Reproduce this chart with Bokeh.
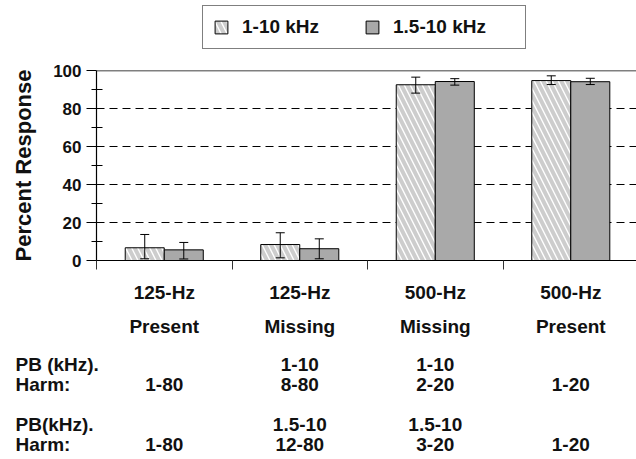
from bokeh.plotting import figure
from bokeh.layouts import column
from bokeh.models import (ColumnDataSource, Whisker, TeeHead, Legend, LegendItem,
                          Span, FixedTicker, Range1d)
from bokeh.core.properties import value
from bokeh.embed import file_html
from bokeh.resources import INLINE

# ---- data ----
cat_line1 = ["125-Hz", "125-Hz", "500-Hz", "500-Hz"]
cat_line2 = ["Present", "Missing", "Missing", "Present"]
pb_row1 = ["", "1-10", "1-10", ""]
harm_row1 = ["1-80", "8-80", "2-20", "1-20"]
pb_row2 = ["", "1.5-10", "1.5-10", ""]
harm_row2 = ["1-80", "12-80", "3-20", "1-20"]
row_titles = ["", "", "PB (kHz).", "Harm:", "PB(kHz).", "Harm:"]

series_names = ["1-10 kHz", "1.5-10 kHz"]
wide_mean = [6.7, 8.4, 92.5, 94.7]
wide_lo = [0.9, 1.4, 88.1, 92.6]
wide_hi = [13.7, 14.6, 96.5, 97.2]
narrow_mean = [5.6, 6.2, 94.2, 94.1]
narrow_lo = [0.8, 0.9, 92.3, 92.6]
narrow_hi = [9.5, 11.4, 95.7, 95.9]

y_ticks = [0, 20, 40, 60, 80, 100]
y_minor = [10, 30, 50, 70, 90]
grid_ticks = [20, 40, 60, 80]

FONT = "Liberation Sans"
TXT = "#111111"
W = 636
LEFT = 96
X_END = 3.985
PPU = (W - LEFT) / X_END
bar_w = 0.288
centers = [i + 0.5 for i in range(len(cat_line1))]

wide_style = dict(fill_color="white", line_color="black", line_width=1,
                  hatch_pattern="left_diagonal_line", hatch_color="#cdcdcd",
                  hatch_weight=4, hatch_scale=12)
narrow_style = dict(fill_color="#a9a9a9", line_color="black", line_width=1)

LH = 58
MH = 214
TH = 459 - LH - MH

src_w = ColumnDataSource(dict(x=[c - bar_w / 2 for c in centers], top=wide_mean, lo=wide_lo, hi=wide_hi))
src_n = ColumnDataSource(dict(x=[c + bar_w / 2 for c in centers], top=narrow_mean, lo=narrow_lo, hi=narrow_hi))

# ---------------- legend strip ----------------
# the strip's view lies far above the data, so only the legend shows
pl = figure(width=W, height=LH, output_backend="svg", toolbar_location=None,
            x_range=Range1d(0, X_END), y_range=Range1d(500, 501), frame_align=False,
            min_border_left=0, min_border_right=0, min_border_top=0, min_border_bottom=0,
            x_axis_location=None, y_axis_location=None)
pl.outline_line_color = None
pl.grid.visible = False
d_w = pl.vbar(x="x", top="top", width=bar_w, bottom=0, source=src_w, **wide_style)
d_n = pl.vbar(x="x", top="top", width=bar_w, bottom=0, source=src_n, **narrow_style)
legend = Legend(items=[LegendItem(label=series_names[0], renderers=[d_w]),
                       LegendItem(label=series_names[1], renderers=[d_n])],
                orientation="horizontal", location=(202, 9),
                border_line_color="black", border_line_width=1,
                background_fill_color="white", background_fill_alpha=1,
                padding=10, spacing=0, margin=0,
                glyph_width=16, glyph_height=16, label_standoff=13,
                label_width=122, label_height=22,
                label_text_font=FONT, label_text_font_style="bold",
                label_text_font_size="19px", label_text_color=TXT)
pl.add_layout(legend, "center")

# ---------------- main plot ----------------
p = figure(width=W, height=MH, output_backend="svg", toolbar_location=None,
           x_range=Range1d(0, X_END), y_range=Range1d(0, 100), frame_align=False,
           min_border_left=LEFT, min_border_right=0, min_border_top=12, min_border_bottom=12)
p.outline_line_color = None

p.xgrid.visible = False
p.ygrid.ticker = FixedTicker(ticks=grid_ticks)
p.ygrid.grid_line_color = "black"
p.ygrid.grid_line_dash = "8 5"
p.ygrid.grid_line_width = 1

r_w = p.vbar(x="x", top="top", width=bar_w, bottom=0, source=src_w, **wide_style)
r_n = p.vbar(x="x", top="top", width=bar_w, bottom=0, source=src_n, **narrow_style)

for s in (src_w, src_n):
    p.add_layout(Whisker(base="x", lower="lo", upper="hi", source=s, level="overlay",
                         line_color="black", line_width=1,
                         upper_head=TeeHead(size=9, line_color="black", line_width=1),
                         lower_head=TeeHead(size=9, line_color="black", line_width=1)))

p.add_layout(Span(location=100, dimension="width", line_color="black", line_width=1.3))

ya = p.yaxis[0]
ya.ticker = FixedTicker(ticks=y_ticks, minor_ticks=y_minor)
ya.axis_line_color = "black"
ya.axis_line_width = 1.2
ya.major_tick_out = 10
ya.major_tick_in = 0
ya.minor_tick_out = 5
ya.minor_tick_in = 6
ya.major_tick_line_color = "black"
ya.minor_tick_line_color = "black"
ya.major_label_standoff = 5
ya.major_label_text_font = FONT
ya.major_label_text_font_style = "bold"
ya.major_label_text_font_size = "17px"
ya.major_label_text_color = TXT
ya.axis_label = "Percent Response"
ya.axis_label_text_font = FONT
ya.axis_label_text_font_style = "bold"
ya.axis_label_text_font_size = "22px"
ya.axis_label_text_color = TXT
ya.axis_label_standoff = 14

xa = p.xaxis[0]
xa.ticker = FixedTicker(ticks=[0, 1, 2, 3, 4])
xa.major_label_overrides = {0: "", 1: "", 2: "", 3: "", 4: ""}
xa.major_label_text_font_size = "0px"
xa.major_label_standoff = 0
xa.axis_line_color = "black"
xa.axis_line_width = 1.2
xa.major_tick_out = 9
xa.major_tick_in = 0
xa.minor_tick_line_color = None
xa.major_tick_line_color = "#333333"

# ---------------- text rows ----------------
pt = figure(width=W, height=TH, output_backend="svg", toolbar_location=None,
            x_range=Range1d(-LEFT / PPU, X_END), y_range=Range1d(TH, 0), frame_align=False,
            min_border_left=0, min_border_right=0, min_border_top=0, min_border_bottom=0,
            x_axis_location=None, y_axis_location=None)
pt.outline_line_color = None
pt.grid.visible = False

row_base = [20, 54, 92, 112, 152, 172]   # baseline offsets (px from strip top)
rows = [cat_line1, cat_line2, pb_row1, harm_row1, pb_row2, harm_row2]
cx, cy, ct = [], [], []
for yy, row in zip(row_base, rows):
    for c, t in zip(centers, row):
        if t:
            cx.append(c); cy.append(yy); ct.append(t)
txt_style = dict(text_font=value(FONT), text_font_style="bold", text_font_size="19px",
                 text_color=TXT, text_baseline="alphabetic")
pt.text(x=cx, y=cy, text=ct, text_align="center", **txt_style)

lx, ly, lt = [], [], []
for yy, t in zip(row_base, row_titles):
    if t:
        lx.append((15 - LEFT) / PPU); ly.append(yy); lt.append(t)
pt.text(x=lx, y=ly, text=lt, text_align="left", **txt_style)

layout = column(pl, p, pt, spacing=0)
open("out.html", "w").write(file_html(layout, INLINE))
